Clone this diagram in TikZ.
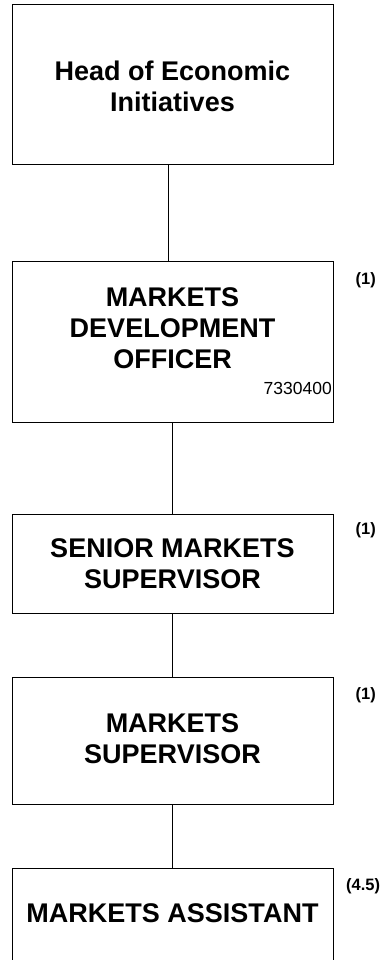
\documentclass[tikz,border=0pt]{standalone}
\usepackage{fontspec}
\setmainfont{Liberation Sans}
\begin{document}
\begin{tikzpicture}[x=1pt,y=-1pt]
  \useasboundingbox (0,0) rectangle (389,960);
  \clip (0,0) rectangle (389,960);
  \tikzset{
    post/.style={draw, line width=1pt, inner sep=0pt, minimum width=321pt},
    title/.style={font=\bfseries\fontsize{27}{31}\selectfont, align=center, inner sep=0pt},
    headcount/.style={font=\bfseries\fontsize{16.5}{19}\selectfont, anchor=west, inner sep=0pt},
    code/.style={font=\fontsize{17.5}{20}\selectfont, anchor=east, inner sep=0pt},
    link/.style={line width=1pt}
  }
  % posts
  \node[post, minimum height=160pt] (b1) at (172.5,85) {};
  \node[post, minimum height=161pt] (b2) at (172.5,341.5) {};
  \node[post, minimum height=99pt]  (b3) at (172.5,563.5) {};
  \node[post, minimum height=127pt] (b4) at (172.5,740.5) {};
  \node[post, minimum height=100pt] (b5) at (172.5,918) {};
  % titles
  \node[title] (t1) at (172.5,86) {Head of Economic\\Initiatives};
  \node[title] (t2) at (172.5,328) {MARKETS\\DEVELOPMENT\\OFFICER};
  \node[title] (t3) at (172.5,563.5) {SENIOR MARKETS\\SUPERVISOR};
  \node[title] (t4) at (172.5,739) {MARKETS\\SUPERVISOR};
  \node[title] (t5) at (172.5,913) {MARKETS ASSISTANT};
  % post code
  \node[code] (c2) at (332,388) {7330400};
  % establishment counts
  \node[headcount] (n2) at (355.5,280.5) {(1)};
  \node[headcount] (n3) at (355.5,530.5) {(1)};
  \node[headcount] (n4) at (355.5,695) {(1)};
  \node[headcount] (n5) at (346,886) {(4.5)};
  % reporting lines
  \draw[link] ([xshift=-4.5pt]b1.south) -- ([xshift=-4.5pt]b2.north);
  \draw[link] (b2.south) -- (b3.north);
  \draw[link] (b3.south) -- (b4.north);
  \draw[link] (b4.south) -- (b5.north);
\end{tikzpicture}
\end{document}
